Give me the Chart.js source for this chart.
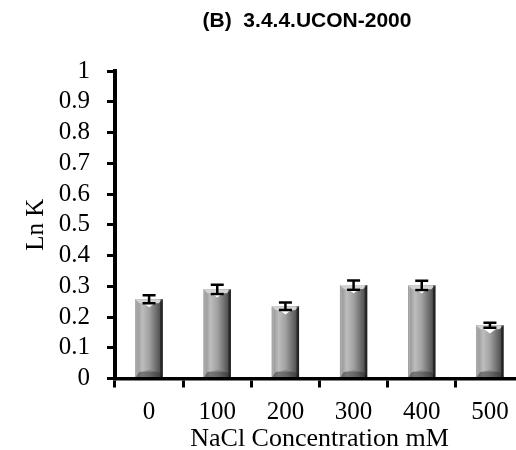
<!DOCTYPE html>
<html>
<head>
<meta charset="utf-8">
<script src="https://cdn.jsdelivr.net/npm/chart.js@4"></script>
<style>
  html, body { margin: 0; padding: 0; background: #fff; overflow: hidden; }
  #wrap { width: 524px; height: 450px; }
</style>
</head>
<body>
<div id="wrap"><canvas id="chart"></canvas></div>
<script>
const chartTitle = '(B)  3.4.4.UCON-2000';
const labels = ['0', '100', '200', '300', '400', '500'];
const lnK = [0.258, 0.290, 0.235, 0.304, 0.303, 0.173];
const errors = [0.013, 0.015, 0.012, 0.015, 0.015, 0.008];
const yTicks = [0, 0.1, 0.2, 0.3, 0.4, 0.5, 0.6, 0.7, 0.8, 0.9, 1];

// title sits a bit left of the plot centre in the original
const titleText = {
  id: 'titleText',
  afterDraw(chart) {
    const ctx = chart.ctx;
    ctx.save();
    ctx.fillStyle = '#000';
    ctx.font = 'bold 21px "Liberation Sans"';
    ctx.textAlign = 'center';
    ctx.textBaseline = 'middle';
    ctx.fillText(chartTitle, 307, 21);
    ctx.restore();
  }
};

// shaded "bevel" look + error bars, drawn over the bar elements
const barLook = {
  id: 'barLook',
  afterDatasetsDraw(chart) {
    const ctx = chart.ctx;
    const meta = chart.getDatasetMeta(0);
    const yScale = chart.scales.y;
    meta.data.forEach((bar, i) => {
      const { x, y, base, width } = bar.getProps(['x', 'y', 'base', 'width'], true);
      const l = x - width / 2, r = x + width / 2;
      const h = base - y;
      ctx.save();
      const g = ctx.createLinearGradient(l, 0, r, 0);
      g.addColorStop(0, '#8c8c8c');
      g.addColorStop(0.25, '#bdbdbd');
      g.addColorStop(0.5, '#a2a2a2');
      g.addColorStop(0.8, '#666666');
      g.addColorStop(1, '#3c3c3c');
      ctx.fillStyle = g;
      ctx.fillRect(l, y, width, h);
      const b = Math.min(width * 0.5, h * 0.5);
      // top bevel
      ctx.fillStyle = '#d4d4d4';
      ctx.beginPath();
      ctx.moveTo(l, y); ctx.lineTo(r, y); ctx.lineTo(r - 4, y + 4); ctx.lineTo(l + 4, y + 4); ctx.closePath();
      ctx.fill();
      ctx.fillStyle = '#ffffff';
      ctx.beginPath();
      ctx.moveTo(x - width * 0.26, y + 3); ctx.lineTo(x + width * 0.26, y + 3); ctx.lineTo(x, y + b * 0.6); ctx.closePath();
      ctx.fill();
      // bottom bevel
      ctx.fillStyle = 'rgba(50,50,50,0.5)';
      ctx.beginPath();
      ctx.moveTo(l, base); ctx.lineTo(r, base); ctx.lineTo(r - 4, base - 5); ctx.lineTo(l + 4, base - 5); ctx.closePath();
      ctx.fill();
      ctx.fillStyle = 'rgba(90,90,90,0.45)';
      ctx.beginPath();
      ctx.moveTo(l + 4, base - 5); ctx.lineTo(r - 4, base - 5); ctx.lineTo(x, base - b * 0.5); ctx.closePath();
      ctx.fill();
      // side edges
      ctx.fillStyle = 'rgba(255,255,255,0.2)';
      ctx.fillRect(l, y, 2, h);
      ctx.fillStyle = 'rgba(0,0,0,0.45)';
      ctx.fillRect(r - 2.5, y, 2.5, h);
      // error bar
      const yTop = yScale.getPixelForValue(lnK[i] + errors[i]);
      const yBot = yScale.getPixelForValue(lnK[i] - errors[i]);
      ctx.strokeStyle = '#000';
      ctx.lineWidth = 2.5;
      ctx.beginPath();
      ctx.moveTo(x, yTop); ctx.lineTo(x, yBot);
      ctx.moveTo(x - 6.5, yTop); ctx.lineTo(x + 6.5, yTop);
      ctx.moveTo(x - 6.5, yBot); ctx.lineTo(x + 6.5, yBot);
      ctx.stroke();
      ctx.restore();
    });
  }
};

new Chart(document.getElementById('chart'), {
  type: 'bar',
  data: {
    labels: labels,
    datasets: [{
      data: lnK,
      backgroundColor: '#999999',
      borderWidth: 0,
      categoryPercentage: 0.8,
      barPercentage: 0.5
    }]
  },
  options: {
    responsive: true,
    maintainAspectRatio: false,
    animation: false,
    layout: { padding: { top: 71, right: 0, bottom: 0, left: 0 } },
    plugins: {
      legend: { display: false },
      tooltip: { enabled: false },
      title: { display: false }
    },
    scales: {
      x: {
        afterFit(scale) { scale.height = 71.5; },
        grid: { offset: true, drawOnChartArea: false, color: '#000', lineWidth: 3, tickLength: 9 },
        border: { color: '#000', width: 3.5 },
        ticks: { color: '#000', font: { family: 'Liberation Serif', size: 25 }, padding: 10 },
        title: {
          display: true,
          text: 'NaCl Concentration mM',
          color: '#000',
          font: { family: 'Liberation Serif', size: 26, lineHeight: 1 },
          padding: { top: 0, bottom: -2 }
        }
      },
      y: {
        min: 0,
        max: 1,
        afterBuildTicks(scale) {
          scale.ticks = yTicks.map(v => ({ value: v }));
        },
        afterFit(scale) { scale.width = 115; },
        grid: { drawOnChartArea: false, color: '#000', lineWidth: 3, tickLength: 8 },
        border: { color: '#000', width: 4 },
        ticks: {
          color: '#000',
          font: { family: 'Liberation Serif', size: 25 },
          padding: 17,
          autoSkip: false,
          callback: v => String(v)
        },
        title: {
          display: true,
          text: 'Ln K',
          color: '#000',
          font: { family: 'Liberation Serif', size: 25 },
          padding: { top: 21, bottom: 0 }
        }
      }
    }
  },
  plugins: [barLook, titleText]
});
</script>
</body>
</html>
